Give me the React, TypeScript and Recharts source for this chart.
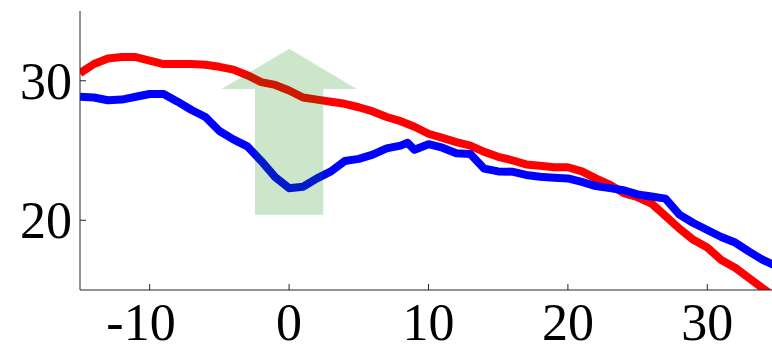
import { LineChart, Line, XAxis, YAxis, ReferenceArea } from 'recharts';

// sample positions and the two measured curves
const POSITIONS = [
    -15, -14, -13, -12, -11, -10, -9, -8, -7, -6, -5, -4, -3, -2, -1, 0, 1, 2, 3, 4, 5, 6, 7, 8, 8.5, 9,
    10, 11, 12, 13, 14, 15, 16, 17, 18, 19, 20, 21, 22, 23, 24, 25, 26, 27, 28, 29, 30, 31, 32, 33, 34, 35,
];
const RED_VALUES = [
    30.55, 31.2, 31.6, 31.7, 31.7, 31.45, 31.2, 31.2, 31.2, 31.15, 31.0, 30.8, 30.4, 29.9, 29.7, 29.3,
    28.8, 28.65, 28.5, 28.35, 28.1, 27.8, 27.4, 27.1, 26.9, 26.7, 26.2, 25.9, 25.6, 25.35, 24.9, 24.55,
    24.3, 24.0, 23.9, 23.8, 23.8, 23.5, 23.0, 22.55, 21.95, 21.65, 21.2, 20.3, 19.4, 18.6, 18.05, 17.15,
    16.6, 15.85, 15.1, 14.4,
];
const BLUE_VALUES = [
    28.85, 28.8, 28.6, 28.65, 28.85, 29.05, 29.05, 28.5, 27.9, 27.4, 26.4, 25.8, 25.3, 24.25, 23.1, 22.3,
    22.4, 23.0, 23.5, 24.25, 24.4, 24.7, 25.15, 25.35, 25.55, 25.05, 25.45, 25.2, 24.8, 24.75, 23.7, 23.5,
    23.48, 23.25, 23.12, 23.05, 23.0, 22.75, 22.45, 22.3, 22.15, 21.85, 21.7, 21.55, 20.4, 19.8, 19.3,
    18.8, 18.4, 17.75, 17.15, 16.7,
];

const X_TICKS = [-10, 0, 10, 20, 30];
const Y_TICKS = [20, 30];

// up arrow: centre, half widths of shaft and head, and its heights
const ARROW_CENTER = 0;
const ARROW_SHAFT_HALF = 2.45;
const ARROW_HEAD_HALF = 4.85;
const ARROW_BASE = 20.4;
const ARROW_NECK = 29.4;
const ARROW_TIP = 32.3;

const data = POSITIONS.map((x, i) => ({ x, red: RED_VALUES[i], blue: BLUE_VALUES[i] }));

const FONT = '"Liberation Serif", "Times New Roman", serif';
const FONT_SIZE = 52;
const AXIS_COLOR = '#262626';
const TICK_LEN = 6;

function BottomTick(props: any) {
    const { x, y, payload } = props;
    const v = payload.value as number;
    const digits = String(Math.abs(v));
    // keep the digits centred on the tick, let the minus hang to the left
    const half = (digits.length * 0.5 * FONT_SIZE) / 2;
    return (
        <g>
            <line x1={x} y1={y} x2={x} y2={y - TICK_LEN} stroke={AXIS_COLOR} strokeWidth={1} />
            <text
                x={v < 0 ? x + half : x}
                y={y + 50}
                textAnchor={v < 0 ? 'end' : 'middle'}
                fontFamily={FONT}
                fontSize={FONT_SIZE}
                fill="#000"
            >
                {v < 0 ? '-' + digits : digits}
            </text>
        </g>
    );
}

function TopTick(props: any) {
    const { x, y } = props;
    return <line x1={x} y1={y} x2={x} y2={y + TICK_LEN} stroke={AXIS_COLOR} strokeWidth={1} />;
}

function LeftTick(props: any) {
    const { x, y, payload } = props;
    return (
        <g>
            <line x1={x} y1={y} x2={x + TICK_LEN} y2={y} stroke={AXIS_COLOR} strokeWidth={1} />
            <text x={x - 8} y={y + 18} textAnchor="end" fontFamily={FONT} fontSize={FONT_SIZE} fill="#000">
                {payload.value}
            </text>
        </g>
    );
}

function RightTick(props: any) {
    const { x, y } = props;
    return <line x1={x} y1={y} x2={x - TICK_LEN} y2={y} stroke={AXIS_COLOR} strokeWidth={1} />;
}

function ArrowShape(props: any) {
    const { x, y, width, height } = props;
    const headSpan = 2 * ARROW_HEAD_HALF;
    const left = x;
    const right = x + width;
    const shaftL = x + (width * (ARROW_HEAD_HALF - ARROW_SHAFT_HALF)) / headSpan;
    const shaftR = x + (width * (ARROW_HEAD_HALF + ARROW_SHAFT_HALF)) / headSpan;
    const mid = x + (width * (ARROW_CENTER + ARROW_HEAD_HALF)) / headSpan;
    const neck = y + (height * (ARROW_TIP - ARROW_NECK)) / (ARROW_TIP - ARROW_BASE);
    const bottom = y + height;
    const pts = [
        [mid, y],
        [right, neck],
        [shaftR, neck],
        [shaftR, bottom],
        [shaftL, bottom],
        [shaftL, neck],
        [left, neck],
    ]
        .map((p) => p.join(','))
        .join(' ');
    return <polygon points={pts} fill="#008000" fillOpacity={0.2} stroke="none" />;
}

export default function App() {
    return (
        <div style={{ position: 'fixed', left: 0, top: 0, width: 772, height: 352, overflow: 'hidden', background: '#fff' }}>
            <LineChart width={780} height={352} data={data} margin={{ top: 11, right: 3, left: 0, bottom: 0 }}>
                <XAxis
                    dataKey="x"
                    type="number"
                    domain={[-15, 35]}
                    ticks={X_TICKS}
                    allowDataOverflow
                    height={62}
                    tickLine={false}
                    tickSize={0}
                    tickMargin={0}
                    tick={<BottomTick />}
                    stroke={AXIS_COLOR}
                    interval={0}
                />
                <XAxis
                    xAxisId="top"
                    orientation="top"
                    dataKey="x"
                    type="number"
                    domain={[-15, 35]}
                    ticks={X_TICKS}
                    allowDataOverflow
                    height={0}
                    tickLine={false}
                    tickSize={0}
                    tickMargin={0}
                    tick={<TopTick />}
                    stroke={AXIS_COLOR}
                    strokeWidth={1.5}
                    interval={0}
                />
                <YAxis
                    type="number"
                    domain={[15, 35]}
                    ticks={Y_TICKS}
                    allowDataOverflow
                    width={80}
                    tickLine={false}
                    tickSize={0}
                    tickMargin={0}
                    tick={<LeftTick />}
                    stroke={AXIS_COLOR}
                    interval={0}
                />
                <YAxis
                    yAxisId="right"
                    orientation="right"
                    type="number"
                    domain={[15, 35]}
                    ticks={Y_TICKS}
                    allowDataOverflow
                    width={0}
                    tickLine={false}
                    tickSize={0}
                    tickMargin={0}
                    tick={<RightTick />}
                    stroke={AXIS_COLOR}
                    interval={0}
                />
                <Line
                    dataKey="red"
                    type="linear"
                    stroke="#ff0000"
                    strokeWidth={8}
                    strokeLinejoin="round"
                    dot={false}
                    activeDot={false}
                    isAnimationActive={false}
                />
                <Line
                    dataKey="blue"
                    type="linear"
                    stroke="#0000ff"
                    strokeWidth={8}
                    strokeLinejoin="round"
                    dot={false}
                    activeDot={false}
                    isAnimationActive={false}
                />
                {/* translucent arrow sits above both curves */}
                <ReferenceArea
                    x1={ARROW_CENTER - ARROW_HEAD_HALF}
                    x2={ARROW_CENTER + ARROW_HEAD_HALF}
                    y1={ARROW_BASE}
                    y2={ARROW_TIP}
                    zIndex={1500}
                    shape={<ArrowShape />}
                />
            </LineChart>
        </div>
    );
}
